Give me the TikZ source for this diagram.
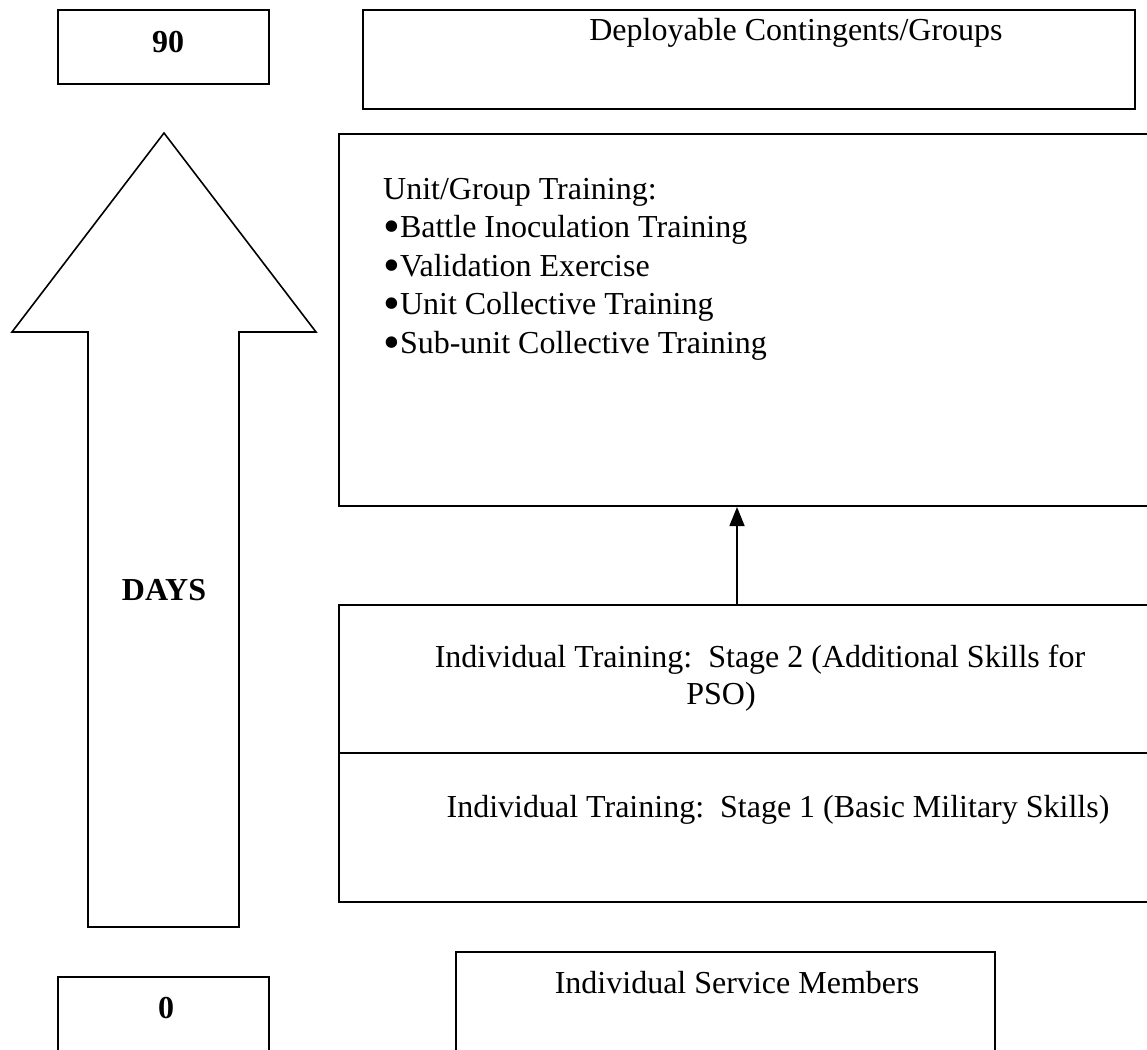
\documentclass[tikz,border=0pt]{standalone}
\usepackage{fontspec}
\setmainfont{Liberation Serif}
\usetikzlibrary{arrows.meta}

\newcommand{\bigbullet}{\raisebox{-5pt}[0pt][0pt]{\scalebox{1.5}{\textbullet}}}

\tikzset{
  box/.style={draw, line width=2pt, rectangle, inner sep=0pt},
  txt/.style={inner sep=0pt, font=\fontsize{32}{37}\selectfont},
}

\begin{document}
\begin{tikzpicture}[x=1pt, y=-1pt]
    \useasboundingbox (0,0) rectangle (1147,1049);
    \clip (0,0) rectangle (1147,1049);

    % Kaesten links (Tage)
    \node[box, minimum width=211pt, minimum height=74pt] (ninety) at (163.5,47) {};
    \node[txt, font=\fontsize{32}{37}\selectfont\bfseries] (ninetytxt) at (168,42) {90};
    \node[box, minimum width=211pt, minimum height=103pt] (zero) at (163.5,1028.5) {};
    \node[txt, font=\fontsize{32}{37}\selectfont\bfseries] (zerotxt) at (166,1008) {0};

    % Grosser Pfeil
    \coordinate (tip) at (164,133);
    \coordinate (wingR) at (316,332);
    \coordinate (wingL) at (12,332);
    \draw[line width=1.6pt, line join=miter]
        (tip) -- (wingR) -- (239,332) -- (239,927) -- (88,927) -- (88,332) -- (wingL) -- cycle;
    \node[txt, font=\fontsize{32}{37}\selectfont\bfseries] (days) at (164,590) {DAYS};

    % Kaesten rechts
    \node[box, minimum width=772pt, minimum height=99pt] (deploy) at (749,59.5) {};
    \node[txt] (deploytxt) at (796,33) {Deployable Contingents/Groups};

    \node[box, minimum width=831pt, minimum height=372pt] (unit) at (754.5,320) {};
    \node[txt, font=\fontsize{32}{38.5}\selectfont, align=left, anchor=north west] (unittxt) at (383,178)
        {Unit/Group Training:\\
         \bigbullet Battle Inoculation Training\\
         \bigbullet Validation Exercise\\
         \bigbullet Unit Collective Training\\
         \bigbullet Sub-unit Collective Training};

    \node[box, minimum width=831pt, minimum height=148pt] (stagetwo) at (754.5,679) {};
    \node[txt] (stagetwotxt) at (760,660) {Individual Training:\ \ Stage 2 (Additional Skills for};
    \node[txt] (psotxt) at (721,697) {PSO)};

    \node[box, minimum width=831pt, minimum height=149pt] (stageone) at (754.5,827.5) {};
    \node[txt] (stageonetxt) at (778,810) {Individual Training:\ \ Stage 1 (Basic Military Skills)};

    \node[box, minimum width=539pt, minimum height=128pt] (members) at (725.5,1016) {};
    \node[txt] (memberstxt) at (737,983) {Individual Service Members};

    % Pfeil zwischen den Stufen
    \coordinate (ax) at (737,0);
    \draw[line width=1.6pt, -{Triangle[length=19pt, width=15pt]}]
        (ax |- stagetwo.north) -- (ax |- unit.south);
\end{tikzpicture}
\end{document}
